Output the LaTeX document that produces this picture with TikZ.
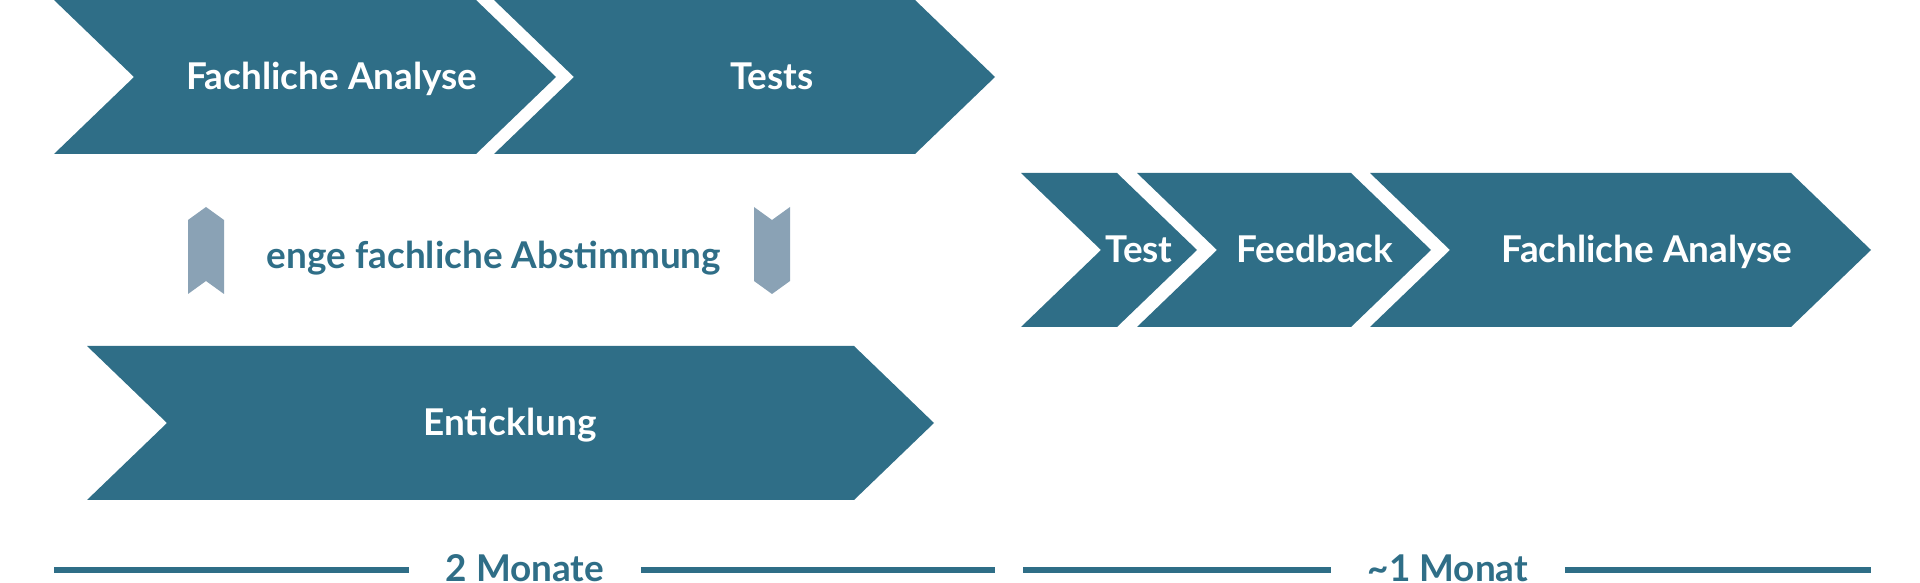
\documentclass[tikz,border=0pt]{standalone}
\usepackage{fontspec}
\setmainfont{Lato}
\definecolor{petrol}{HTML}{2F6E87}
\definecolor{slate}{HTML}{8AA2B5}
\tikzset{chev/.style={fill=petrol}, flag/.style={fill=slate},
  lbl/.style={white,font=\fontsize{10.5}{12}\selectfont\bfseries,inner sep=0pt,anchor=base},
  note/.style={petrol,font=\fontsize{10.5}{12}\selectfont\bfseries,inner sep=0pt,anchor=base},
  span/.style={note,inner xsep=3.6mm},
  tline/.style={petrol,line width=0.6mm}}

\begin{document}
\begin{tikzpicture}[x=0.1mm,y=-0.1mm]
   \useasboundingbox (0,0) rectangle (1920,583);
   % chevrons: left x / right x / top y / label x / name / text
   \foreach \l/\r/\t/\x/\n/\txt in {54/476/0/332/fa/Fachliche Analyse, 494/915/0/772/tests/Tests,
      87/854/346/510/dev/Enticklung, 1021/1117/173/1139/test/Test,
      1137/1351/173/1315/fb/Feedback, 1370/1791/173/1647/fa2/Fachliche Analyse} {
    \fill[chev] (\l,\t) -- (\r,\t) -- ++(80,77) -- ++(-80,77) -- (\l,\t+154) -- ++(80,-77) -- cycle;
    \node[lbl] (\n) at (\x,\t+90) {\txt};
   }
   % exchange between the two rows
   \fill[flag] (188,220) -- (206,207) -- (224,220) -- (224,294) -- (206,281) -- (188,294) -- cycle;
   \fill[flag] (754,207) -- (772,220) -- (790,207) -- (790,281) -- (772,294) -- (754,281) -- cycle;
   \node[note] (sync) at (494,269) {enge fachliche Abstimmung};
   % time scale
   \node[span] (m1) at (525,582) {2 Monate};
   \node[span] (m2) at (1448,582) {\textasciitilde1 Monat};
   \coordinate (a1) at (54,570);  \coordinate (b1) at (995,570);
   \coordinate (a2) at (1023,570); \coordinate (b2) at (1871,570);
   \draw[tline] (a1) -- (a1 -| m1.west) (m1.east |- b1) -- (b1);
   \draw[tline] (a2) -- (a2 -| m2.west) (m2.east |- b2) -- (b2);
\end{tikzpicture}
\end{document}
